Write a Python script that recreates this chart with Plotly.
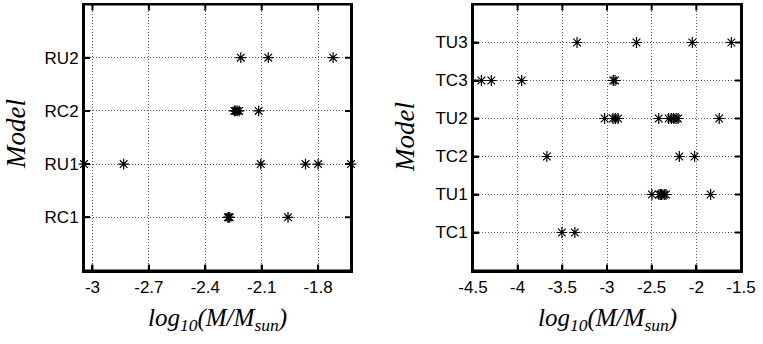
import plotly.graph_objects as go

# ---- data ----
left_models = ["RC1", "RU1", "RC2", "RU2"]
left_rc1 = [-2.28, -2.275, -2.27, -1.96]
left_ru1 = [-3.045, -2.834, -2.105, -1.867, -1.80, -1.625]
left_rc2 = [-2.245, -2.238, -2.23, -2.22, -2.116]
left_ru2 = [-2.211, -2.065, -1.72]

right_models = ["TC1", "TU1", "TC2", "TU2", "TC3", "TU3"]
right_tc1 = [-3.505, -3.36]
right_tu1 = [-2.497, -2.418, -2.40, -2.388, -2.36, -2.34, -1.84]
right_tc2 = [-3.673, -2.19, -2.02]
right_tu2 = [-3.027, -2.933, -2.907, -2.877, -2.421, -2.31, -2.28, -2.254, -2.227, -2.205, -1.744]
right_tc3 = [-4.406, -4.295, -3.955, -2.93, -2.91]
right_tu3 = [-3.335, -2.67, -2.045, -1.608]

left_xticks = [-3, -2.7, -2.4, -2.1, -1.8]
left_xlabels = ["-3", "-2.7", "-2.4", "-2.1", "-1.8"]
right_xticks = [-4.5, -4, -3.5, -3, -2.5, -2, -1.5]
right_xlabels = ["-4.5", "-4", "-3.5", "-3", "-2.5", "-2", "-1.5"]
left_yticks = [1, 2, 3, 4]
right_yticks = [1, 2, 3, 4, 5, 6]

left_series = [left_rc1, left_ru1, left_rc2, left_ru2]
right_series = [right_tc1, right_tu1, right_tc2, right_tu2, right_tc3, right_tu3]

W, H = 763, 344
fig = go.Figure()

marker = dict(symbol="asterisk-open", size=9, color="black",
              line=dict(color="black", width=1.2))

for i, xs in enumerate(left_series):
    fig.add_trace(go.Scatter(x=xs, y=[left_yticks[i]] * len(xs), mode="markers",
                             marker=marker, xaxis="x", yaxis="y",
                             cliponaxis=False, showlegend=False))
for i, xs in enumerate(right_series):
    fig.add_trace(go.Scatter(x=xs, y=[right_yticks[i]] * len(xs), mode="markers",
                             marker=marker, xaxis="x2", yaxis="y2",
                             cliponaxis=False, showlegend=False))

tickfont = dict(family="Liberation Sans, Arial, sans-serif", size=17, color="black")
common = dict(showline=True, linecolor="black", linewidth=2, mirror=True,
              ticks="inside", ticklen=6, tickwidth=2, tickcolor="black",
              showgrid=True, gridcolor="#555", gridwidth=1, griddash="1px,2px",
              zeroline=False, tickfont=tickfont, automargin=False)

ybot = 1 - 270.5 / H
ytop = 1 - 4.5 / H

fig.update_layout(
    width=W, height=H, margin=dict(l=0, r=0, t=0, b=0, autoexpand=False),
    paper_bgcolor="white", plot_bgcolor="white",
    xaxis=dict(domain=[84 / W, 351 / W], range=[-3.045, -1.625],
               tickvals=left_xticks, ticktext=left_xlabels, anchor="y", **common),
    yaxis=dict(domain=[ybot, ytop], range=[0, 5], tickvals=left_yticks,
               ticktext=left_models, anchor="x", **common),
    xaxis2=dict(domain=[473 / W, 741 / W], range=[-4.5, -1.5],
                tickvals=right_xticks, ticktext=right_xlabels, anchor="y2", **common),
    yaxis2=dict(domain=[ybot, ytop], range=[0, 7], tickvals=right_yticks,
                ticktext=right_models, anchor="x2", **common),
)

TL = 6
tick_line = dict(color="black", width=2)
panels = (("x", "y", left_xticks, left_yticks), ("x2", "y2", right_xticks, right_yticks))
for xa, ya, xt, yt in panels:
    # frame
    fig.add_shape(type="rect", xref=xa + " domain", yref=ya + " domain",
                  x0=0, x1=1, y0=0, y1=1, line=dict(color="black", width=2), layer="above")
    # x ticks (bottom and top, inside)
    for v in xt:
        for anc, d in ((0, TL), (1, -TL)):
            fig.add_shape(type="line", xref=xa, yref=ya + " domain", x0=v, x1=v,
                          ysizemode="pixel", yanchor=anc, y0=0, y1=d,
                          line=tick_line, layer="above")
    # y ticks (left and right, inside)
    for v in yt:
        for anc, d in ((0, TL), (1, -TL)):
            fig.add_shape(type="line", xref=xa + " domain", yref=ya, y0=v, y1=v,
                          xsizemode="pixel", xanchor=anc, x0=0, x1=d,
                          line=tick_line, layer="above")

xtitlefont = dict(family="Liberation Serif, Times New Roman, serif", size=25, color="black")
ytitlefont = dict(family="Liberation Serif, Times New Roman, serif", size=27, color="black")
xtitle = "<i>log<sub>10</sub>(M/M<sub>sun</sub>)</i>"
for cx in (217, 607):
    fig.add_annotation(text=xtitle, x=cx / W, y=1 - 319 / H, xref="paper", yref="paper",
                       xanchor="center", yanchor="middle", showarrow=False, font=xtitlefont)
for cx, cy in ((16, 134), (405, 137)):
    fig.add_annotation(text="<i>Model</i>", x=cx / W, y=1 - cy / H, xref="paper", yref="paper",
                       xanchor="center", yanchor="middle", showarrow=False, textangle=-90,
                       font=ytitlefont)

fig.write_html("out.html", config={"displayModeBar": False},
               post_script="document.body.style.margin='0px';document.body.style.padding='0px';")
